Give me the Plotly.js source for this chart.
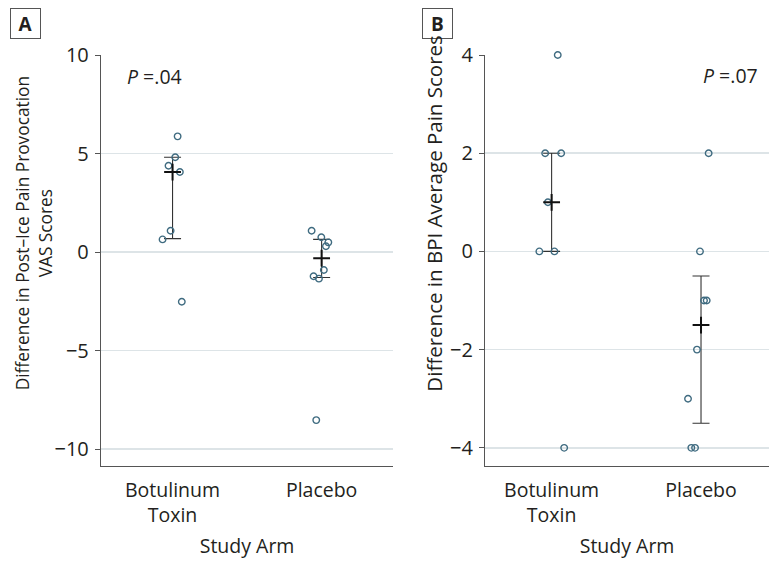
<!DOCTYPE html>
<html>
<head>
<meta charset="utf-8">
<script src="https://cdn.plot.ly/plotly-3.0.1.min.js"></script>
<style>html,body{margin:0;padding:0;background:#fff;}#chart{width:770px;height:564px;}</style>
</head>
<body>
<div id="chart"></div>
<script>
// ---- data ----
const categories = ["Botulinum<br>Toxin", "Placebo"];
const categoryIndex = [0, 1];

const vasBotox = [5.87, 4.81, 4.38, 4.06, 1.08, 0.64, -2.52];
const vasBotoxJitter = [0.034, 0.018, -0.027, 0.049, -0.013, -0.067, 0.062];
const vasPlacebo = [1.08, 0.75, 0.49, 0.29, -0.91, -1.23, -1.35, -8.53];
const vasPlaceboJitter = [-0.067, -0.002, 0.045, 0.029, 0.015, -0.054, -0.018, -0.036];
const vasMedian = [4.06, -0.31];
const vasQ1 = [0.68, -1.29];
const vasQ3 = [4.81, 0.64];

const bpiBotox = [4, 2, 2, 1, 0, 0, -4];
const bpiBotoxJitter = [0.041, -0.043, 0.064, -0.025, -0.082, 0.019, 0.084];
const bpiPlacebo = [2, 0, -1, -1, -2, -3, -4, -4];
const bpiPlaceboJitter = [0.051, -0.007, 0.02, 0.038, -0.027, -0.087, -0.065, -0.04];
const bpiMedian = [1, -1.5];
const bpiQ1 = [0, -3.5];
const bpiQ3 = [2, -0.5];

const vasTicks = [-10, -5, 0, 5, 10];
const vasTickText = ["\u221210", "\u22125", "0", "5", "10"];
const bpiTicks = [-4, -2, 0, 2, 4];
const bpiTickText = ["\u22124", "\u22122", "0", "2", "4"];

const panelLabels = ["A", "B"];
const pValueText = ["<i>P</i> =.04", "<i>P</i> =.07"];
const yTitles = ["Difference in Post\u2013Ice Pain Provocation<br>VAS Scores",
                 "Difference in BPI Average Pain Scores"];
const xTitle = "Study Arm";

// ---- styling ----
const FONT = "Open Sans, Noto Sans, sans-serif";
const TXT = "#231f20";
const PT = "#3f6b80";
const AX = "#555555";
const GRID = "#dde4e7";

const W = 770, H = 564;
const M = {l: 100.7, r: 1, t: 55, b: 98};
const pw = W - M.l - M.r, ph = H - M.t - M.b;
const px = x => (x - M.l) / pw;
const py = y => (H - M.b - y) / ph;

function pointsTrace(cat, vals, jit, xa, ya) {
  return {
    type: "scatter", mode: "markers", cliponaxis: false,
    x: vals.map((v, i) => categoryIndex[cat] + jit[i]), y: vals,
    xaxis: xa, yaxis: ya, showlegend: false, hoverinfo: "y",
    marker: {symbol: "circle", size: 6.5, color: "rgba(255,255,255,0)", line: {color: PT, width: 1.4}}
  };
}
function iqrTrace(med, q1, q3, xa, ya) {
  return {
    type: "scatter", mode: "markers",
    x: categoryIndex, y: med, xaxis: xa, yaxis: ya, showlegend: false, hoverinfo: "skip",
    marker: {size: 1, color: "rgba(0,0,0,0)"},
    error_y: {type: "data", symmetric: false,
      array: q3.map((v, i) => v - med[i]), arrayminus: med.map((v, i) => v - q1[i]),
      color: "#333333", thickness: 1.1, width: 8.5}
  };
}
function medianTrace(med, xa, ya) {
  return {
    type: "scatter", mode: "markers", cliponaxis: false,
    x: categoryIndex, y: med, xaxis: xa, yaxis: ya, showlegend: false, hoverinfo: "y",
    marker: {symbol: "cross-thin", size: 12, color: "#111", line: {color: "#111", width: 2}}
  };
}

const data = [
  iqrTrace(vasMedian, vasQ1, vasQ3, "x", "y"),
  pointsTrace(0, vasBotox, vasBotoxJitter, "x", "y"),
  pointsTrace(1, vasPlacebo, vasPlaceboJitter, "x", "y"),
  medianTrace(vasMedian, "x", "y"),
  iqrTrace(bpiMedian, bpiQ1, bpiQ3, "x2", "y2"),
  pointsTrace(0, bpiBotox, bpiBotoxJitter, "x2", "y2"),
  pointsTrace(1, bpiPlacebo, bpiPlaceboJitter, "x2", "y2"),
  medianTrace(bpiMedian, "x2", "y2")
];

function xAxis(domain, range, anchor) {
  return {
    domain: domain, range: range, anchor: anchor,
    tickmode: "array", tickvals: categoryIndex, ticktext: categories,
    ticks: "", showgrid: false, zeroline: false,
    showline: true, linecolor: AX, linewidth: 1.2,
    tickfont: {family: FONT, size: 19.5, color: TXT}, ticklabelstandoff: 6,
    title: {text: xTitle, font: {family: FONT, size: 19.5, color: TXT}, standoff: 12}
  };
}
function yAxis(range, tv, tt, anchor) {
  return {
    domain: [0, 1], range: range, anchor: anchor,
    tickmode: "array", tickvals: tv, ticktext: tt,
    ticks: "outside", ticklen: 5, tickcolor: AX, tickwidth: 1,
    showgrid: true, gridcolor: GRID, gridwidth: 1.6, zeroline: false,
    showline: true, linecolor: AX, linewidth: 1.2,
    tickfont: {family: FONT, size: 20, color: TXT}, ticklabelstandoff: 2
  };
}

const annFont = {family: FONT, size: 19.5, color: TXT};
const layout = {
  width: W, height: H, margin: M, paper_bgcolor: "#fff", plot_bgcolor: "#fff",
  showlegend: false,
  xaxis: xAxis([0, px(393)], [-0.48, 1.48], "y"),
  yaxis: yAxis([-10.86, 10], vasTicks, vasTickText, "x"),
  xaxis2: xAxis([px(485), 1], [-0.445, 1.455], "y2"),
  yaxis2: yAxis([-4.37, 4], bpiTicks, bpiTickText, "x2"),
  annotations: [
    {xref: "paper", yref: "paper", x: px(25.5), y: py(23.5), text: "<b>" + panelLabels[0] + "</b>",
     showarrow: false, font: {family: FONT, size: 19, color: TXT}, width: 27, height: 27,
     bordercolor: AX, borderwidth: 1, borderpad: 1, xanchor: "center", yanchor: "middle"},
    {xref: "paper", yref: "paper", x: px(437.5), y: py(23.5), text: "<b>" + panelLabels[1] + "</b>",
     showarrow: false, font: {family: FONT, size: 19, color: TXT}, width: 27, height: 27,
     bordercolor: AX, borderwidth: 1, borderpad: 1, xanchor: "center", yanchor: "middle"},
    {xref: "paper", yref: "paper", x: px(125), y: py(76), text: pValueText[0], showarrow: false,
     font: annFont, xanchor: "left", yanchor: "middle"},
    {xref: "paper", yref: "paper", x: px(760), y: py(75), text: pValueText[1], showarrow: false,
     font: annFont, xanchor: "right", yanchor: "middle"},
    {xref: "paper", yref: "paper", x: px(33.5), y: py(233.5), text: yTitles[0], showarrow: false,
     textangle: -90, font: {family: FONT, size: 17.3, color: TXT}, xanchor: "center", yanchor: "middle"},
    {xref: "paper", yref: "paper", x: px(433.5), y: py(214), text: yTitles[1], showarrow: false,
     textangle: -90, font: {family: FONT, size: 20.5, color: TXT}, xanchor: "center", yanchor: "middle"}
  ]
};

Plotly.newPlot("chart", data, layout, {staticPlot: true, displayModeBar: false});
</script>
</body>
</html>
